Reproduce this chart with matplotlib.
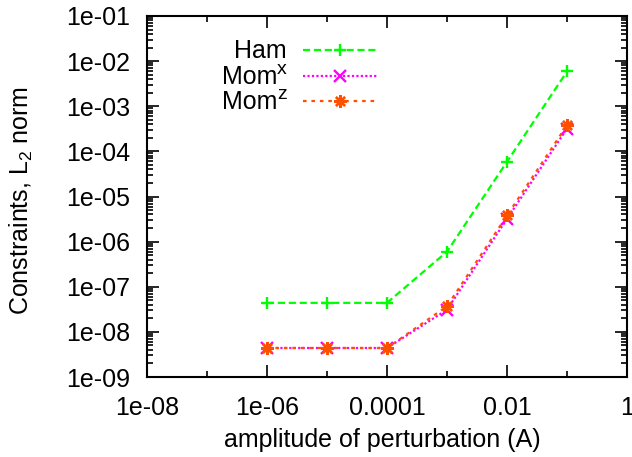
import matplotlib
matplotlib.use('Agg')
import matplotlib.pyplot as plt
from matplotlib.ticker import FixedLocator, FixedFormatter, LogLocator, NullFormatter

# amplitude of the perturbation and the constraint norms
amplitude = [1e-6, 1e-5, 1e-4, 1e-3, 1e-2, 1e-1]
ham = [4.4e-8, 4.4e-8, 4.4e-8, 6.0e-7, 5.9e-5, 5.9e-3]
mom_x = [4.4e-9, 4.4e-9, 4.4e-9, 3.1e-8, 3.2e-6, 3.2e-4]
mom_z = [4.4e-9, 4.4e-9, 4.4e-9, 3.7e-8, 3.8e-6, 3.8e-4]

x_ticks = [1e-8, 1e-6, 1e-4, 1e-2, 1]
x_tick_labels = ['1e-08', '1e-06', '0.0001', '0.01', '1']
x_minor = [1e-7, 1e-5, 1e-3, 1e-1]
y_ticks = [10.0 ** -k for k in range(1, 10)]
y_tick_labels = ['1e-%02d' % k for k in range(1, 10)]

plt.rcParams['font.family'] = ['Liberation Sans', 'DejaVu Sans']
plt.rcParams['mathtext.fontset'] = 'custom'
plt.rcParams['mathtext.rm'] = 'Liberation Sans'
plt.rcParams['mathtext.it'] = 'Liberation Sans'
plt.rcParams['font.size'] = 18

fig = plt.figure(figsize=(6.32, 4.57), dpi=100)
ax = fig.add_axes([0.2326, 0.175, 0.7595, 0.79])

# (name, superscript, values, colour, dash pattern, marker)
series = [
    ('Ham', '', ham, '#00ff00', (0, (3.2, 1.7)), '+'),
    ('Mom', 'x', mom_x, '#ff00ff', (0, (1.0, 1.0)), 'x'),
    ('Mom', 'z', mom_z, '#ff5000', (0, (1.6, 2.2)), (8, 2, 0)),
]

for name, sup, vals, color, ls, marker in series:
    ax.plot(amplitude, vals, color=color, linestyle=ls, linewidth=1.6,
            marker=marker, markersize=9, markeredgewidth=1.7, zorder=3)

ax.set_xscale('log')
ax.set_yscale('log')
ax.set_xlim(1e-8, 1)
ax.set_ylim(1e-9, 1e-1)

ax.xaxis.set_major_locator(FixedLocator(x_ticks))
ax.xaxis.set_major_formatter(FixedFormatter(x_tick_labels))
ax.xaxis.set_minor_locator(FixedLocator(x_minor))
ax.xaxis.set_minor_formatter(NullFormatter())
ax.yaxis.set_major_locator(FixedLocator(y_ticks))
ax.yaxis.set_major_formatter(FixedFormatter(y_tick_labels))
ax.yaxis.set_minor_locator(LogLocator(base=10, subs=range(2, 10), numticks=20))
ax.yaxis.set_minor_formatter(NullFormatter())

ax.tick_params(which='both', direction='in', top=True, right=True, width=1.2)
ax.tick_params(which='major', length=8.5)
ax.tick_params(which='minor', length=4.3)
ax.tick_params(axis='y', which='major', pad=12)
ax.tick_params(axis='x', which='major', pad=14)
for sp in ax.spines.values():
    sp.set_linewidth(1.5)

ax.set_xlabel('amplitude of perturbation (A)')
ax.xaxis.set_label_coords(0.49, -0.14)
ax.set_ylabel('Constraints, L$_2$ norm', va='center')
ax.yaxis.set_label_coords(-0.2625, 0.49)

# key in the upper left, labels right-justified against the samples
rows_y = [0.9058, 0.8338, 0.7645]
text_right = 0.2917
for (name, sup, vals, color, ls, marker), yy in zip(series, rows_y):
    ax.plot([0.325, 0.481], [yy, yy], transform=ax.transAxes, color=color,
            linestyle=ls, linewidth=1.6, clip_on=False, zorder=4)
    ax.plot([0.402], [yy], transform=ax.transAxes, color=color, linestyle='none',
            marker=marker, markersize=9, markeredgewidth=1.7, clip_on=False, zorder=4)
    if sup:
        ax.annotate(sup, (text_right, yy), xycoords='axes fraction',
                    xytext=(0, 1.5), textcoords='offset points',
                    ha='right', va='baseline', fontsize=14)
        ax.annotate(name, (text_right, yy), xycoords='axes fraction',
                    xytext=(-7.2, -5.5), textcoords='offset points',
                    ha='right', va='baseline')
    else:
        ax.annotate(name, (text_right, yy), xycoords='axes fraction',
                    xytext=(0, -5.5), textcoords='offset points',
                    ha='right', va='baseline')

fig.savefig('out.png', dpi=100)
